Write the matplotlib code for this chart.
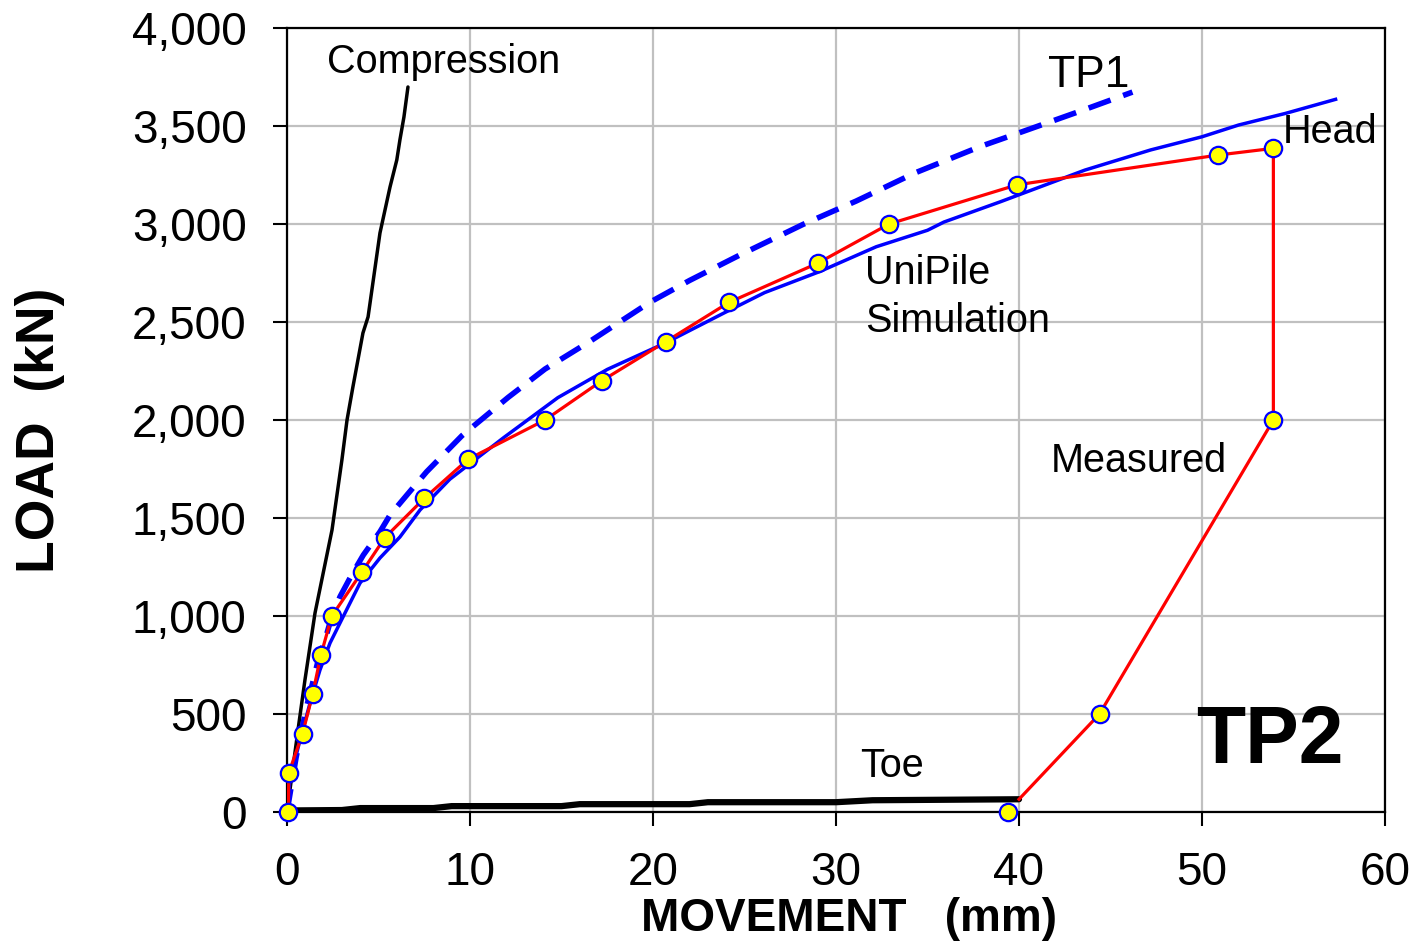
import matplotlib
matplotlib.use("Agg")
import matplotlib.pyplot as plt

plt.rcParams['font.family'] = ['Liberation Sans', 'DejaVu Sans']

# ---- data ----
measured_x = [0.07, 0.1, 0.85, 1.4, 1.85, 2.45, 4.1, 5.35, 7.5, 9.9, 14.1, 17.2, 20.7, 24.15,
              29.0, 32.9, 39.9, 50.9, 53.9, 53.9, 44.4, 39.4]
measured_y = [0, 200, 400, 600, 800, 1000, 1225, 1400, 1600, 1800, 2000, 2200, 2400, 2600,
              2800, 3000, 3200, 3352, 3386, 2000, 500, 0]
# red line: measured head curve, unloading ends on the toe curve
head_line_x = [0.07, 0.1, 0.85, 1.4, 1.85, 2.45, 4.1, 5.35, 7.5, 9.9, 14.1, 17.2, 20.7, 24.15,
               29.0, 32.9, 39.9, 50.9, 53.9, 53.9, 44.4, 40.0]
head_line_y = [0, 200, 400, 600, 800, 1000, 1225, 1400, 1600, 1800, 2000, 2200, 2400, 2600,
               2800, 3000, 3200, 3352, 3386, 2000, 500, 65]

unipile_x = [0, 0.16, 0.71, 1.26, 1.8, 2.35, 3.06, 3.99, 5.08, 6.17, 7.27, 8.9, 11.84, 14.8,
             17.5, 20.7, 23.9, 26.1, 29.1, 32.2, 35.0, 35.9, 39.0, 43.6, 47.2, 50.0, 52.0,
             54.55, 57.3]
unipile_y = [0, 163, 367, 556, 724, 862, 995, 1168, 1296, 1403, 1541, 1698, 1910, 2114,
             2258, 2394, 2547, 2650, 2757, 2884, 2968, 3010, 3114, 3275, 3378, 3445, 3505,
             3564, 3636]

tp1_x = [0, 0.5, 1.07, 1.35, 1.71, 2.08, 2.44, 2.9, 3.53, 4.17, 5.08, 5.63, 6.63, 7.63, 9.56,
         12.08, 14.1, 16.6, 19.8, 22.0, 24.75, 28.2, 31.1, 34.3, 37.9, 40.0, 43.5, 46.2]
tp1_y = [0, 280, 537, 639, 776, 878, 996, 1099, 1209, 1311, 1430, 1515, 1626, 1736, 1920,
         2115, 2260, 2404, 2599, 2712, 2842, 2998, 3117, 3260, 3396, 3465, 3581, 3673]

compression_x = [0, 0.16, 0.6, 0.98, 1.53, 2.46, 3.0, 3.28, 3.6, 4.15, 4.43, 5.08, 5.63, 6.0,
                 6.17, 6.39, 6.61]
compression_y = [0, 112, 418, 673, 1015, 1439, 1796, 2000, 2168, 2444, 2526, 2954, 3189, 3327,
                 3429, 3546, 3699]

toe_x = [0, 0.3, 3.0, 4.0, 8.0, 9.0, 15.0, 16.0, 22.0, 23.0, 30.0, 32.0, 40.0]
toe_y = [0, 8, 10, 20, 20, 30, 30, 40, 40, 50, 50, 60, 65]

x_ticks = [0, 10, 20, 30, 40, 50, 60]
y_ticks = [0, 500, 1000, 1500, 2000, 2500, 3000, 3500, 4000]
y_tick_labels = ['0', '500', '1,000', '1,500', '2,000', '2,500', '3,000', '3,500', '4,000']

# ---- figure ----
fig = plt.figure(figsize=(14.19, 9.42), dpi=100)
ax = fig.add_axes([287 / 1419, 1 - 812 / 942, 1098 / 1419, 784 / 942])

ax.plot(toe_x, toe_y, color='black', lw=4.5, solid_capstyle='round', zorder=3)
ax.plot(compression_x, compression_y, color='black', lw=2.5, solid_capstyle='round', zorder=3)
ax.plot(tp1_x, tp1_y, color='#0000ff', lw=4.0, ls=(0, (4.2, 2.4)), zorder=4)
ax.plot(unipile_x, unipile_y, color='#0000ff', lw=2.5, zorder=4)
ax.plot(head_line_x, head_line_y, color='#ff0000', lw=2.3, zorder=5)
ax.plot(measured_x, measured_y, ls='none', marker='o', ms=12.5, mfc='#ffff00',
        mec='#0000ff', mew=1.6, zorder=6, clip_on=False)

ax.set_xlim(0, 60)
ax.set_ylim(0, 4000)
ax.set_xticks(x_ticks)
ax.set_yticks(y_ticks)
ax.set_yticklabels(y_tick_labels)
ax.grid(True, color='#c0c0c0', lw=1.6)
ax.set_axisbelow(True)
ax.tick_params(axis='both', direction='out', length=10, width=1.5, labelsize=33,
               colors='black')
ax.tick_params(axis='y', pad=19)
ax.tick_params(axis='x', pad=18)
for s in ax.spines.values():
    s.set_linewidth(1.6)
    s.set_color('black')

ax.set_xlabel('MOVEMENT   (mm)', fontsize=33, fontweight='bold', va='center')
ax.xaxis.set_label_coords(0.512, -0.137)
ax.set_ylabel('LOAD  (kN)', fontsize=38.5, fontweight='bold', va='center')
ax.yaxis.set_label_coords(-0.225, 0.487)

txt = dict(fontsize=28.5, color='black', va='baseline', ha='left')
ax.text(2.19, 3770, 'Compression', **txt)
ax.text(41.6, 3699, 'TP1', fontsize=32, color='black', va='baseline', ha='left')
ax.text(54.4, 3413, 'Head', **txt)
ax.text(31.6, 2694, 'UniPile', **txt)
ax.text(31.6, 2449, 'Simulation', **txt)
ax.text(41.75, 1735, 'Measured', **txt)
ax.text(31.3, 179, 'Toe', **txt)
ax.text(49.7, 250, 'TP2', fontsize=58, fontweight='bold', color='black',
        va='baseline', ha='left')

fig.savefig('out.png', dpi=100)
